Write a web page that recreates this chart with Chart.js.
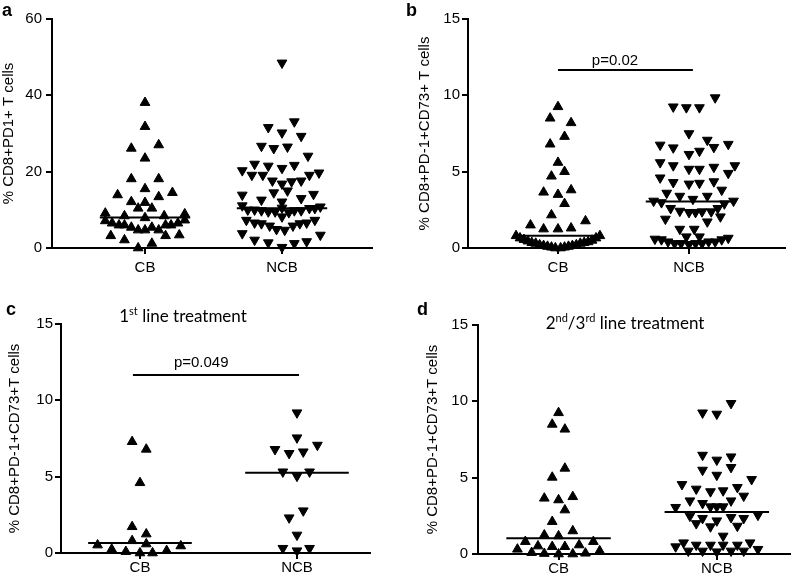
<!DOCTYPE html>
<html>
<head>
<meta charset="utf-8">
<script src="https://cdn.jsdelivr.net/npm/chart.js@4.4.1/dist/chart.umd.min.js"></script>
<style>
  body { margin: 0; background: #fff; }
  #wrap { position: relative; width: 797px; height: 585px; font-family: "Liberation Sans", Arial, sans-serif; }
  .pan { position: absolute; }
  .tag { position: absolute; font-weight: bold; font-size: 18px; line-height: 18px; }
  .sub { position: absolute; width: 300px; text-align: center; font-family: Lato, "Liberation Sans", sans-serif; font-size: 17px; line-height: 17px; }
  .sub sup { font-size: 11px; line-height: 0; vertical-align: 7px; }
</style>
</head>
<body>
<div id="wrap">
  <canvas class="pan" id="pa" width="400" height="290" style="left:0;top:0"></canvas>
  <canvas class="pan" id="pb" width="397" height="290" style="left:400px;top:0"></canvas>
  <canvas class="pan" id="pc" width="400" height="295" style="left:0;top:290px"></canvas>
  <canvas class="pan" id="pd" width="397" height="295" style="left:400px;top:290px"></canvas>
  <div class="tag" style="left:2px;top:1px">a</div>
  <div class="tag" style="left:406px;top:1px">b</div>
  <div class="tag" style="left:6px;top:300px">c</div>
  <div class="tag" style="left:417px;top:300px">d</div>
  <div class="sub" style="left:33px;top:307px">1<sup>st</sup> line treatment</div>
  <div class="sub" style="left:475px;top:314px">2<sup>nd</sup>/3<sup>rd</sup> line treatment</div>
</div>
<script>
const groups = ['CB', 'NCB'];

// a: % CD8+PD1+ T cells (values, horizontal spread inside the column)
const aCbY = [38.1, 31.8, 26.1, 27.0, 23.5, 18.1, 18.1, 15.5, 13.9, 14.5, 12.1, 13.4, 11.9, 10.4, 10.4, 9.1, 8.9, 8.4, 7.9, 8.4, 7.1, 7.3, 6.5, 6.0, 6.0, 5.4, 4.7, 4.7, 5.4, 4.7, 6.0, 6.0, 6.5, 3.2, 2.1, 3.2, 3.4, 0, 1.2];
const aCbX = [0, 0, -0.10, 0.10, 0, -0.10, 0.10, 0, -0.20, 0.20, -0.10, 0.10, 0, -0.05, 0.05, -0.29, 0.29, -0.15, 0, 0.14, -0.29, 0.29, -0.24, -0.19, -0.15, -0.10, -0.05, 0, 0.05, 0.10, 0.15, 0.19, 0.24, -0.25, -0.15, 0.15, 0.25, -0.05, 0.05];
const aNcbY = [48.5, 33.1, 31.6, 30.2, 29.3, 26.7, 26.1, 26.5, 24.1, 22.0, 21.5, 20.9, 21.7, 20.3, 19.1, 19.1, 19.1, 19.7, 17.6, 16.8, 17.4, 17.6, 14.5, 15.0, 13.9, 12.6, 12.1, 13.0, 14.1, 11.1, 10.0, 10.0, 9.8, 9.5, 9.5, 10.5, 9.3, 9.8, 9.8, 10.4, 10.4, 10.8, 7.3, 6.6, 6.4, 5.8, 4.9, 4.7, 5.8, 6.4, 6.6, 7.3, 8.2, 3.8, 2.1, 1.4, 0.2, 1.2, 1.7, 3.4];
const aNcbX = [0, 0.09, -0.10, 0, 0.14, -0.15, -0.06, 0.04, 0.19, -0.20, -0.10, 0, 0.09, -0.29, -0.22, -0.14, 0.20, 0.27, -0.07, 0, 0.07, 0.14, -0.06, 0.04, -0.29, -0.15, 0, 0.14, 0.23, -0.29, -0.25, -0.20, -0.15, -0.10, -0.05, 0, 0.05, 0.09, 0.14, 0.20, 0.24, 0.28, -0.26, -0.20, -0.15, -0.09, -0.04, 0.02, 0.08, 0.13, 0.18, 0.24, 0, -0.29, -0.20, -0.10, 0, 0.09, 0.18, 0.28];
const aMed = [8.0, 10.4];

// b: % CD8+PD-1+CD73+ T cells
const bCbY = [9.25, 8.5, 8.2, 7.3, 6.8, 5.6, 5.0, 4.7, 3.65, 3.5, 3.8, 2.9, 2.16, 1.5, 1.24, 1.24, 1.3, 1.77, 0.8, 0.65, 0.55, 0.45, 0.35, 0.3, 0.2, 0.15, 0.1, 0.05, 0, 0, 0.05, 0.1, 0.15, 0.2, 0.3, 0.35, 0.4, 0.5, 0.65, 0.8];
const bCbX = [0, -0.06, 0.10, 0.05, -0.06, 0, 0.05, -0.05, -0.11, 0, 0.10, 0.05, -0.05, -0.21, -0.11, 0, 0.10, 0.21, -0.32, -0.29, -0.26, -0.23, -0.20, -0.17, -0.14, -0.11, -0.08, -0.05, -0.02, 0.02, 0.05, 0.08, 0.11, 0.14, 0.17, 0.20, 0.23, 0.26, 0.29, 0.32];
const bNcbY = [9.85, 9.25, 9.2, 9.2, 7.5, 7.07, 6.75, 6.57, 6.8, 6.14, 6.35, 6.6, 5.6, 5.4, 5.17, 5.17, 5.3, 4.9, 5.4, 4.6, 4.3, 4.2, 4.25, 4.35, 3.8, 3.6, 3.4, 3.2, 3.4, 3.08, 2.98, 2.9, 3.08, 2.6, 2.42, 2.34, 2.34, 2.38, 2.38, 2.6, 1.9, 1.72, 2.05, 1.24, 1.24, 0.74, 0.74, 0.59, 0.55, 0.41, 0.3, 0.3, 0.24, 0.3, 0.3, 0.41, 0.41, 0.55, 0.65];
const bNcbX = [0.20, -0.12, -0.02, 0.08, 0, 0.14, -0.22, -0.12, 0.30, 0, 0.08, 0.19, -0.22, -0.12, 0, 0.08, 0.19, 0.30, 0.35, -0.22, -0.12, 0, 0.08, 0.19, 0.25, -0.17, -0.07, 0.03, 0.14, -0.27, -0.21, 0.27, 0.34, -0.14, -0.07, 0, 0.05, 0.10, 0.17, 0.22, -0.18, 0.14, 0.24, -0.07, 0.04, -0.02, 0.08, -0.26, -0.21, -0.16, -0.11, -0.06, 0, 0.05, 0.10, 0.15, 0.20, 0.25, 0.30];
const bMed = [0.8, 3.05];
const bSig = [1, 2.03, 11.66];       // from, to, level
const bP = ['p=0.02', 1.435, 11.98]; // text, x, y

// c: 1st line treatment
const cCbY = [7.29, 6.79, 4.6, 1.72, 1.24, 0.8, 0.59, 0.52, 0.24, 0.09, 0, 0, 0.15, 0.46];
const cCbX = [-0.05, 0.04, 0, -0.05, 0.04, -0.05, 0.04, -0.27, -0.18, -0.09, 0, 0.08, 0.17, 0.26];
const cNcbY = [9.19, 7.55, 6.79, 6.53, 6.63, 7.07, 5.32, 5.04, 5.32, 2.77, 2.31, 1.18, 0.31, 0.15, 0.31];
const cNcbX = [0, 0, -0.14, -0.05, 0.04, 0.13, -0.09, 0, 0.08, 0.04, -0.05, 0, -0.09, 0, 0.08];
const cMed = [0.65, 5.26];
const cSig = [0.955, 2.013, 11.66];
const cP = ['p=0.049', 1.39, 12.2];

// d: 2nd/3rd line treatment
const dCbY = [9.25, 8.49, 8.17, 5.61, 5.02, 3.65, 3.54, 3.75, 2.88, 2.12, 1.51, 1.24, 1.18, 0.81, 0.81, 0.31, 0.52, 0.48, 0.48, 0.59, 0.09, 0.03, 0, 0, 0.05, 0.2];
const dCbX = [0, -0.04, 0.04, 0.04, -0.04, -0.09, 0, 0.09, 0.04, -0.04, 0.09, -0.09, 0, -0.21, 0.22, -0.26, -0.13, -0.04, 0.04, 0.13, -0.17, -0.09, 0, 0.09, 0.17, 0.26];
const dNcbY = [9.87, 9.25, 9.17, 6.48, 6.16, 6.37, 5.5, 5.17, 5.68, 4.56, 4.89, 4.26, 4.09, 4.15, 4.37, 3.8, 3.49, 3.32, 3.49, 3.1, 3.1, 3.1, 3.06, 2.49, 2.34, 2.18, 2.4, 2.34, 2.55, 2.0, 1.79, 1.83, 1.18, 0.74, 0.74, 0.48, 0.2, 0.59, 0.2, 0.59, 0.15, 0.59, 0.2, 0.59, 0.2, 0.31];
const dNcbX = [0.09, -0.09, 0, -0.09, 0, 0.09, -0.09, 0, 0.09, -0.22, 0.22, -0.13, -0.04, 0.04, 0.13, 0.17, -0.17, -0.09, 0.09, -0.04, 0, 0.04, -0.26, -0.17, -0.09, 0, 0.09, 0.17, 0.26, -0.13, -0.04, 0.13, 0.04, -0.21, 0.21, -0.26, -0.18, -0.13, -0.09, -0.04, 0, 0.04, 0.09, 0.13, 0.17, 0.26];
const dMed = [1.03, 2.75];

const ink = '#000';
const sans = '"Liberation Sans", Arial, sans-serif';
const medHalf = 0.33;

function pts(ys, xs, g) {
  return ys.map((y, i) => ({ x: g + xs[i], y: y }));
}

function seg(x0, x1, y) {
  return [{ x: x0, y: y }, { x: x1, y: y }];
}

// p-value text above the significance bar
const pLabel = {
  id: 'pLabel',
  afterDatasetsDraw(chart, args, opts) {
    if (!opts.p) return;
    const { ctx, scales } = chart;
    ctx.save();
    ctx.font = '15px ' + sans;
    ctx.fillStyle = ink;
    ctx.textAlign = 'center';
    ctx.textBaseline = 'alphabetic';
    ctx.fillText(opts.p[0], scales.x.getPixelForValue(opts.p[1]), scales.y.getPixelForValue(opts.p[2]));
    ctx.restore();
  }
};

function panel(id, p) {
  const lineDs = (data) => ({
    type: 'line', data: data, borderColor: ink, borderWidth: 2,
    pointRadius: 0, fill: false, clip: false
  });
  const ds = [];
  p.med.forEach((m, i) => ds.push(lineDs(seg(i + 1 - medHalf, i + 1 + medHalf, m))));
  if (p.sig) ds.push(lineDs(seg(p.sig[0], p.sig[1], p.sig[2])));
  ds.push({
    data: pts(p.cb[0], p.cb[1], 1), pointStyle: 'triangle', rotation: 0,
    pointRadius: 5.6, backgroundColor: ink, borderColor: ink, borderWidth: 1, clip: false
  });
  ds.push({
    data: pts(p.ncb[0], p.ncb[1], 2), pointStyle: 'triangle', rotation: 180,
    pointRadius: 5.6, backgroundColor: ink, borderColor: ink, borderWidth: 1, clip: false
  });

  new Chart(document.getElementById(id), {
    type: 'scatter',
    data: { datasets: ds },
    plugins: [pLabel],
    options: {
      responsive: false,
      animation: false,
      devicePixelRatio: 1,
      events: [],
      layout: { padding: { left: p.pad[0], right: p.pad[1], top: p.pad[2], bottom: 0 } },
      plugins: {
        legend: { display: false },
        tooltip: { enabled: false },
        pLabel: { p: p.p }
      },
      scales: {
        x: {
          type: 'linear',
          min: p.xr[0],
          max: p.xr[1],
          afterBuildTicks: s => { s.ticks = [{ value: 1 }, { value: 2 }]; },
          afterFit: s => { s.height = p.xH; },
          ticks: {
            callback: v => groups[v - 1],
            color: ink, font: { family: sans, size: 15 },
            padding: p.xPad, autoSkip: false, maxRotation: 0
          },
          grid: { drawOnChartArea: false, tickLength: 6, color: ink, lineWidth: 2 },
          border: { color: ink, width: 2 }
        },
        y: {
          min: 0,
          max: p.yMax,
          afterFit: s => { s.width = p.yW; },
          ticks: { stepSize: p.step, color: ink, font: { family: sans, size: 15 }, padding: p.yPad },
          grid: { drawOnChartArea: false, tickLength: 6, color: ink, lineWidth: 2 },
          border: { color: ink, width: 2 },
          title: { display: true, text: p.title, color: ink, font: { family: sans, size: 15 }, padding: 0 }
        }
      }
    }
  });
}

panel('pa', {
  cb: [aCbY, aCbX], ncb: [aNcbY, aNcbX], med: aMed,
  yMax: 60, step: 20, title: '% CD8+PD1+ T cells',
  pad: [0, 28, 19], yW: 52, xH: 42, xPad: 5, yPad: 4, xr: [0.321, 2.657]
});
panel('pb', {
  cb: [bCbY, bCbX], ncb: [bNcbY, bNcbX], med: bMed, sig: bSig, p: bP,
  yMax: 15, step: 5, title: '% CD8+PD-1+CD73+ T cells',
  pad: [16, 12, 19], yW: 52, xH: 42, xPad: 5, yPad: 2, xr: [0.313, 2.733]
});
panel('pc', {
  cb: [cCbY, cCbX], ncb: [cNcbY, cNcbX], med: cMed, sig: cSig, p: cP,
  yMax: 15, step: 5, title: '% CD8+PD-1+CD73+T cells',
  pad: [6, 30, 34], yW: 55, xH: 32, xPad: 0, yPad: 2, xr: [0.497, 2.465]
});
panel('pd', {
  cb: [dCbY, dCbX], ncb: [dNcbY, dNcbX], med: dMed,
  yMax: 15, step: 5, title: '% CD8+PD-1+CD73+T cells',
  pad: [24, 5, 35], yW: 54, xH: 31, xPad: 0, yPad: 4, xr: [0.491, 2.465]
});
</script>
</body>
</html>
